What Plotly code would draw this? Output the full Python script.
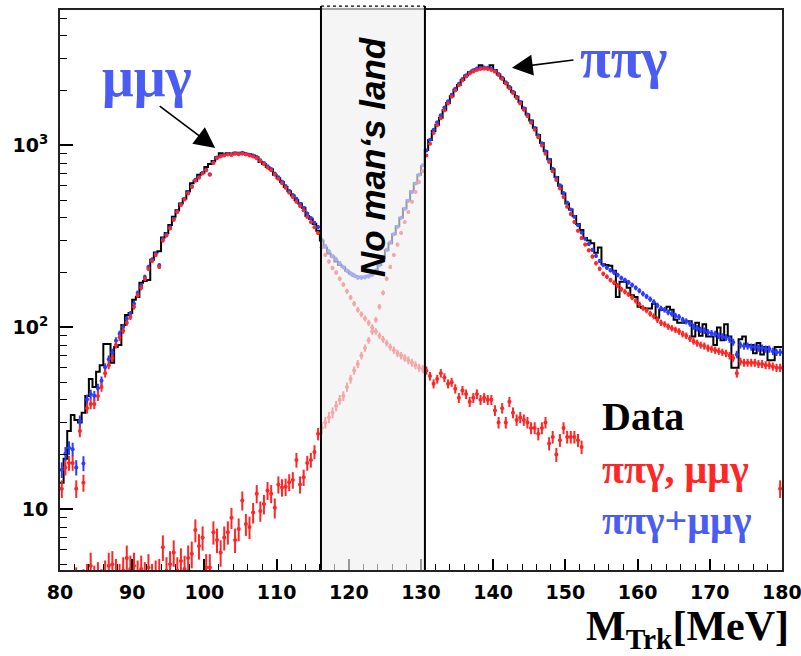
import numpy as np
import plotly.graph_objects as go

# ---- binning: 0.5 MeV bins from 80 to 180 MeV ----
M_LO, M_HI, BIN_W = 80.0, 180.0, 0.5
edges = np.arange(M_LO, M_HI + BIN_W / 2, BIN_W)
centers = edges[:-1] + BIN_W / 2

# Data (events per bin), rows of 5 MeV
data_counts = [
    14, 19, 27, 33, 31, 30, 34, 42, 52, 47,
    57, 62, 81, 81, 64, 78, 80, 103, 117, 120,
    142, 147, 176, 180, 182, 235, 258, 262, 312, 330,
    365, 405, 440, 480, 510, 560, 620, 640, 690, 706,
    760, 790, 820, 860, 905, 900, 905, 895, 910, 905,
    910, 900, 895, 880, 860, 810, 790, 760, 740, 690,
    660, 630, 590, 560, 530, 500, 480, 455, 410, 395,
    370, 340, 300, 275, 255, 245, 230, 220, 215, 205,
    198, 192, 190, 188, 190, 192, 198, 205, 220, 240,
    265, 290, 325, 360, 400, 450, 500, 560, 620, 690,
    770, 945, 1070, 1200, 1300, 1420, 1560, 1710, 1860, 2020,
    2150, 2290, 2420, 2520, 2580, 2620, 2760, 2650, 2650, 2760,
    2600, 2450, 2330, 2200, 2080, 1960, 1850, 1740, 1600, 1480,
    1370, 1250, 1140, 1030, 930, 840, 740, 670, 600, 545,
    480, 445, 410, 370, 343, 310, 300, 290, 257, 275,
    222, 220, 218, 205, 147, 178, 178, 165, 150, 147,
    130, 128, 127, 127, 135, 113, 125, 125, 130, 125,
    110, 106, 106, 108, 108, 89, 106, 90, 104, 89,
    89, 80, 100, 85, 104, 89, 60, 60, 86, 89,
    80, 80, 72, 82, 71, 78, 66, 66, 78, 78,
]

# mu mu gamma simulation
mumug = [
    13, 17, 18, 18, 13, 27, 14, 36, 38, 38,
    42, 47, 56, 62, 68, 80, 88, 96, 106, 114,
    130, 150, 165, 185, 210, 232, 250, 215, 300, 320,
    350, 390, 430, 470, 505, 545, 590, 640, 665, 700,
    730, 690, 800, 850, 870, 880, 890, 885, 900, 895,
    900, 890, 880, 870, 850, 820, 790, 755, 730, 690,
    655, 620, 585, 550, 520, 490, 465, 440, 405, 380,
    355, 330, 275, 250, 230, 212, 200, 185, 172, 158,
    146, 135, 125, 118, 112, 106, 100, 95, 90, 86,
    82, 78, 75, 72, 70, 68, 66, 64, 62, 60,
    59, 58, 54, 49, 52, 56, 53, 49, 50, 46,
    41, 45, 43, 39, 41, 43, 40, 41, 40, 40,
    35, 30, 36, 30, 39, 34, 31, 32, 31, 30,
    28, 28, 26, 28, 30, 23, 25, 20, 24, 28,
    25, 25, 25, 24, 22, 22, 22, 22, 22, 22,
    23, 23, 24, 24, 24, 25, 25, 25, 25, 25,
    25, 25, 24, 24, 23, 22, 21, 21, 20, 20,
    19, 19, 18, 18, 18, 17, 17, 17, 17, 17,
    17, 17, 16, 16, 16, 16, 15, 15, 15, 15,
    15, 14, 14, 14, 14, 14, 14, 13, 13, 13,
]

# pi pi gamma simulation
pipig = [
    3.5, 3.2, 3.8, 3.4, 4.0, 3.6, 3.9, 4.2, 4.9, 4.1,
    4.3, 3.9, 4.4, 4.9, 5.0, 4.5, 4.2, 4.6, 5.4, 4.7,
    4.9, 4.4, 4.7, 4.3, 4.8, 4.2, 4.4, 4.5, 6.2, 4.6,
    5.0, 5.8, 4.6, 5.2, 4.7, 5.4, 5.7, 7.7, 6.3, 7.0,
    4.8, 4.8, 7.5, 6.8, 5.8, 7.0, 7.5, 9.0, 6.8, 7.8,
    11.2, 8.3, 8.0, 9.6, 12.2, 9.8, 10.7, 12.7, 12.2, 10.2,
    13.7, 13.2, 13.3, 14.1, 14.5, 18.7, 13.7, 15.0, 18.0, 18.7,
    20.7, 26, 28, 30, 32, 34, 37, 40, 42, 47,
    52, 58, 63, 70, 77, 85, 95, 110, 130, 155,
    185, 215, 250, 285, 330, 380, 430, 490, 555, 630,
    720, 880, 1020, 1170, 1290, 1410, 1560, 1700, 1850, 2000,
    2140, 2270, 2390, 2480, 2550, 2600, 2630, 2640, 2630, 2600,
    2540, 2440, 2320, 2190, 2060, 1940, 1820, 1700, 1570, 1450,
    1330, 1220, 1110, 1000, 900, 810, 720, 645, 580, 520,
    460, 420, 380, 340, 310, 285, 265, 245, 225, 210,
    197, 190, 182, 176, 170, 162, 157, 152, 146, 140,
    134, 128, 124, 119, 115, 110, 106, 104, 101, 99,
    97, 95, 92, 90, 87, 84, 82, 80, 79, 77,
    76, 75, 74, 73, 72, 70, 68, 56, 65, 64,
    64, 64, 64, 63, 63, 62, 62, 61, 60, 60,
]

# mu mu gamma points are displayed below this mass (plus the last bin)
MUMUG_SHOWN_MAX = 152.5
# excluded region between the two peaks
GAP_LO, GAP_HI = 116.15, 130.55

data_counts = np.array(data_counts, float)
mumug = np.array(mumug, float)
pipig = np.array(pipig, float)
total = pipig + mumug

RED = "#ff2626"
BLUE = "#2a3cff"
TXT_BLUE = "#4a5cf2"


def mc_err(v):
    # statistical uncertainty of the weighted simulation
    return 0.4 * np.sqrt(v)


fig = go.Figure()

# data as a step histogram
fig.add_trace(go.Scatter(
    x=edges, y=np.append(data_counts, data_counts[-1]),
    mode="lines", line=dict(color="black", width=2, shape="hv"),
    showlegend=False, hoverinfo="skip"))

# sum of both simulations
fig.add_trace(go.Scatter(
    x=centers, y=total, mode="markers",
    marker=dict(color=BLUE, size=4),
    error_y=dict(type="data", array=mc_err(total), color=BLUE, thickness=2, width=0),
    error_x=dict(type="constant", value=0.22, color=BLUE, thickness=1.5, width=0),
    showlegend=False))

# individual simulations
show_mu = (centers < MUMUG_SHOWN_MAX) | (np.arange(len(centers)) == len(centers) - 1)
for xs, ys in ((centers, pipig), (centers[show_mu], mumug[show_mu])):
    fig.add_trace(go.Scatter(
        x=xs, y=ys, mode="markers",
        marker=dict(color=RED, size=4),
        error_y=dict(type="data", array=mc_err(ys), color=RED, thickness=2, width=0),
        error_x=dict(type="constant", value=0.22, color=RED, thickness=1.5, width=0),
        showlegend=False))

# shaded "no man's land" band
fig.add_shape(type="rect", xref="x", yref="paper", x0=GAP_LO, x1=GAP_HI, y0=0, y1=1.007,
              fillcolor="rgba(240,240,240,0.64)", line=dict(width=0), layer="above")
for xv in (GAP_LO, GAP_HI):
    fig.add_shape(type="line", xref="x", yref="paper", x0=xv, x1=xv, y0=0, y1=1.007,
                  line=dict(color="black", width=2), layer="above")
fig.add_shape(type="line", xref="x", yref="paper", x0=GAP_LO, x1=GAP_HI, y0=1.007, y1=1.007,
              line=dict(color="black", width=1.2, dash="dot"), layer="above")

serif = "Liberation Serif"
annotations = [
    dict(text="No man‘s land", xref="x", yref="paper", x=(GAP_LO + GAP_HI) / 2, y=0.7375,
         xanchor="center", yanchor="middle", textangle=-90, showarrow=False,
         font=dict(family="Liberation Sans", size=35, color="black", weight="bold", style="italic")),
    dict(text="μμγ", xref="paper", yref="paper", x=0.056, y=0.88, xanchor="left", yanchor="middle",
         showarrow=False, font=dict(family=serif, size=56, color=TXT_BLUE, weight="bold")),
    dict(text="ππγ", xref="paper", yref="paper", x=0.718, y=0.915, xanchor="left", yanchor="middle",
         showarrow=False, font=dict(family=serif, size=56, color=TXT_BLUE, weight="bold")),
    # arrows pointing at the two peaks
    dict(text="", x=101.5, y=np.log10(968), xref="x", yref="y", ax=-57, ay=-43,
         showarrow=True, arrowhead=2, arrowsize=2.6, arrowwidth=1.6, arrowcolor="black"),
    dict(text="", x=142.6, y=np.log10(2670), xref="x", yref="y", ax=63, ay=-8,
         showarrow=True, arrowhead=2, arrowsize=2.6, arrowwidth=1.6, arrowcolor="black"),
    # key
    dict(text="Data", xref="paper", yref="paper", x=0.748, y=0.275, xanchor="left", yanchor="middle",
         showarrow=False, font=dict(family=serif, size=40, color="black", weight="bold")),
    dict(text="ππγ, μμγ", xref="paper", yref="paper", x=0.748, y=0.18, xanchor="left", yanchor="middle",
         showarrow=False, font=dict(family=serif, size=40, color=RED, weight="bold")),
    dict(text="ππγ+μμγ", xref="paper", yref="paper", x=0.748, y=0.088, xanchor="left", yanchor="middle",
         showarrow=False, font=dict(family=serif, size=40, color=TXT_BLUE, weight="bold")),
    # axis title
    dict(text="M<sub>Trk</sub>[MeV]", xref="paper", yref="paper", x=1.012, y=-0.105,
         xanchor="right", yanchor="middle", showarrow=False,
         font=dict(family=serif, size=42, color="black", weight="bold")),
]

tick_font = dict(family="DejaVu Sans", size=19, color="black", weight="bold")
minor_y = [5, 6, 7, 8, 9, 20, 30, 40, 50, 60, 70, 80, 90,
           200, 300, 400, 500, 600, 700, 800, 900, 2000, 3000, 4000, 5000]

fig.update_layout(
    width=801, height=656, autosize=False,
    margin=dict(l=60, r=19, t=10, b=86),
    paper_bgcolor="white", plot_bgcolor="white",
    annotations=annotations,
    xaxis=dict(range=[M_LO, M_HI + 0.01], tickmode="array", tickvals=list(range(80, 181, 10)),
               ticks="inside", ticklen=11, tickwidth=1.5, automargin=False, ticklabeloverflow="allow",
               tickcolor="black", showline=True, mirror=True, linecolor="#222", linewidth=2,
               showgrid=False, zeroline=False, tickfont=tick_font, ticklabelstandoff=4,
               minor=dict(dtick=2, tick0=80, ticks="inside", ticklen=6, tickwidth=1.2, tickcolor="black")),
    yaxis=dict(type="log", range=[0.667, 3.744], tickvals=[10, 100, 1000],
               ticktext=["10", "10<sup>2</sup>", "10<sup>3</sup>"], automargin=False,
               ticks="inside", ticklen=13, tickwidth=1.5, tickcolor="black",
               showline=True, mirror=True, linecolor="#222", linewidth=2,
               showgrid=False, zeroline=False, tickfont=tick_font, ticklabelstandoff=6,
               minor=dict(tickmode="array", tickvals=minor_y, ticks="inside", ticklen=7,
                          tickwidth=1.2, tickcolor="black")),
)

fig.write_html("out.html")
